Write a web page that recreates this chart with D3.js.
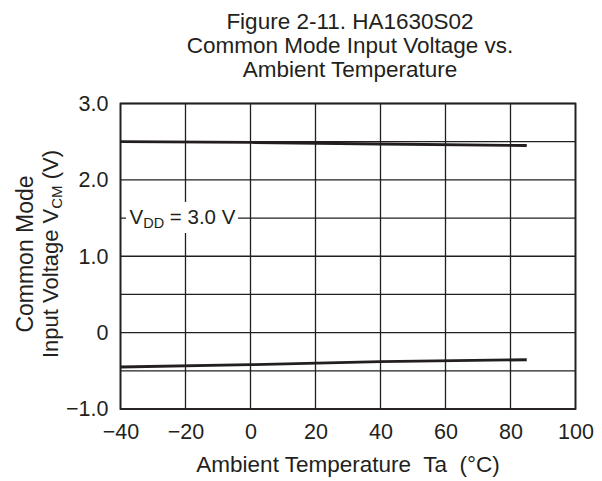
<!DOCTYPE html>
<html><head><meta charset="utf-8">
<script src="https://cdn.jsdelivr.net/npm/d3@7"></script>
<style>body{margin:0;background:#fff}text{font-family:"Liberation Sans",Arial,sans-serif;fill:#231f20;white-space:pre}</style>
</head><body>
<script>
const titleLines = ["Figure 2-11. HA1630S02", "Common Mode Input Voltage vs.", "Ambient Temperature"];
const temps = [-40, 0, 40, 85];
const upperVcm = [2.50, 2.49, 2.47, 2.45];
const lowerVcm = [-0.45, -0.42, -0.38, -0.355];
const xTicks = [-40, -20, 0, 20, 40, 60, 80, 100];
const yTicks = [-1.0, 0, 1.0, 2.0, 3.0];
const yTickLabels = ["\u22121.0", "0", "1.0", "2.0", "3.0"];
const yGrid = [-0.5, 0.5, 1.5, 2.5];

const W = 602, H = 481;
const m = {l: 120.5, r: 575.5, t: 103.5, b: 409};
const svg = d3.select("body").append("svg").attr("width", W).attr("height", H);
const x = d3.scaleLinear().domain([-40, 100]).range([m.l, m.r]);
const y = d3.scaleLinear().domain([-1, 3]).range([m.b, m.t]);
const ink = "#231f20";
const FF = "Liberation Sans, Arial, sans-serif";

// title
svg.append("g").selectAll("text").data(titleLines).join("text")
  .attr("x", 350).attr("y", (d, i) => 28.5 + i * 24)
  .attr("text-anchor", "middle").attr("font-size", 22.5).text(d => d);

// grid
const g = svg.append("g");
g.selectAll(".vg").data(xTicks).join("line")
  .attr("x1", d => x(d)).attr("x2", d => x(d)).attr("y1", m.t).attr("y2", m.b)
  .attr("stroke", ink).attr("stroke-width", 1.3);
g.selectAll(".hg").data(yTicks.concat(yGrid)).join("line")
  .attr("x1", m.l).attr("x2", m.r).attr("y1", d => y(d)).attr("y2", d => y(d))
  .attr("stroke", ink).attr("stroke-width", 1.3);
g.append("rect").attr("x", m.l).attr("y", m.t).attr("width", m.r - m.l).attr("height", m.b - m.t)
  .attr("fill", "none").attr("stroke", ink).attr("stroke-width", 1.8);

// axes labels via d3 axes
const xAxis = svg.append("g").attr("transform", `translate(0,${m.b})`)
  .call(d3.axisBottom(x).tickValues(xTicks).tickSize(0).tickPadding(14.5)
    .tickFormat(d => d < 0 ? "\u2212" + Math.abs(d) : String(d)));
xAxis.select(".domain").remove();
xAxis.selectAll("text").attr("font-size", 21.5).attr("fill", ink).attr("font-family", FF);

const yAxis = svg.append("g").attr("transform", `translate(${m.l},0)`)
  .call(d3.axisLeft(y).tickValues(yTicks).tickSize(0).tickPadding(12)
    .tickFormat((d, i) => yTickLabels[i]));
yAxis.select(".domain").remove();
yAxis.selectAll("text").attr("font-size", 21.5).attr("fill", ink).attr("font-family", FF);

// curves
const line = d3.line().x((d, i) => x(temps[i])).y(d => y(d));
[upperVcm, lowerVcm].forEach(s => {
  svg.append("path").attr("d", line(s)).attr("fill", "none")
    .attr("stroke", ink).attr("stroke-width", 2.8);
});

// VDD annotation
const ann = svg.append("g");
ann.append("rect").attr("x", 126).attr("y", 202).attr("width", 112).attr("height", 31).attr("fill", "#fff");
const annText = ann.append("text").attr("x", 129.5).attr("y", y(1.5) + 6).attr("font-size", 20.5);
annText.append("tspan").text("V");
annText.append("tspan").attr("font-size", 14.5).attr("dy", 4).text("DD");
annText.append("tspan").attr("dy", -4).text(" = 3.0 V");

// axis titles
svg.append("text").attr("x", 348).attr("y", 472).attr("text-anchor", "middle").attr("font-size", 22.5)
  .text("Ambient Temperature  Ta  (\u00B0C)");
const yt = svg.append("g").attr("transform", "translate(0,254) rotate(-90)");
yt.append("text").attr("x", 0).attr("y", 33).attr("text-anchor", "middle").attr("font-size", 23).text("Common Mode");
const yt2 = yt.append("text").attr("x", 0).attr("y", 58).attr("text-anchor", "middle").attr("font-size", 22);
yt2.append("tspan").text("Input Voltage V");
yt2.append("tspan").attr("font-size", 15).attr("dy", 4).text("CM");
yt2.append("tspan").attr("dy", -4).text(" (V)");
</script>
</body></html>
